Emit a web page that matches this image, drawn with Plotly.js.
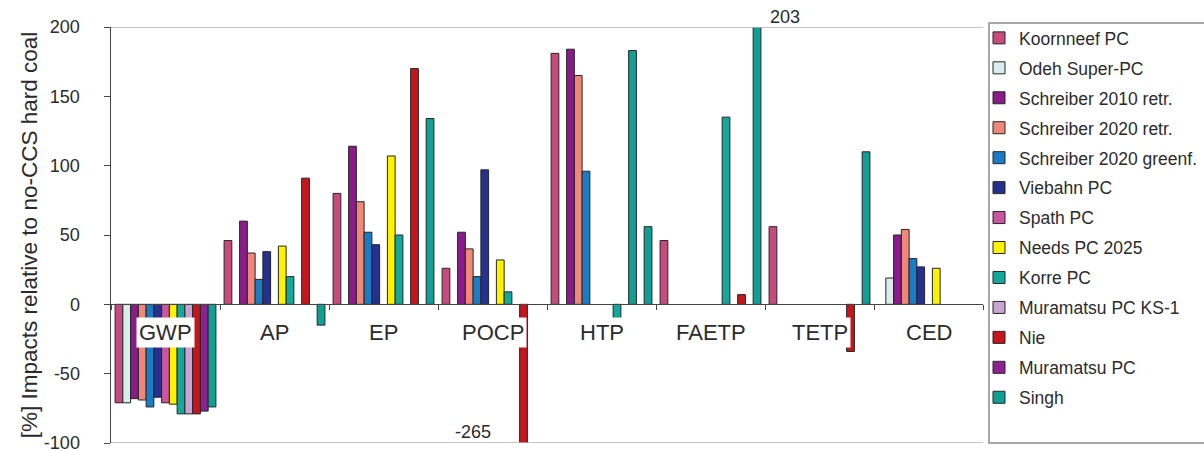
<!DOCTYPE html>
<html><head><meta charset="utf-8">
<script src="https://cdn.plot.ly/plotly-3.0.1.min.js"></script>
<style>html,body{margin:0;padding:0;background:#fff}#chart{width:1204px;height:451px}</style>
</head><body><div id="chart"></div>
<script>
const categories = ['GWP','AP','EP','POCP','HTP','FAETP','TETP','CED'];
const seriesNames = ['Koornneef PC','Odeh Super-PC','Schreiber 2010 retr.','Schreiber 2020 retr.','Schreiber 2020 greenf.','Viebahn PC','Spath PC','Needs PC 2025','Korre PC','Muramatsu PC KS-1','Nie','Muramatsu PC','Singh'];
const seriesColors = ['#c84b7e','#d6eeec','#8a1c8a','#f0887a','#1a7cc4','#26308f','#cc55a0','#fff200','#12a89b','#c9a3d2','#c4161c','#8c2291','#109f94'];

const koornneef      = [-71, 46,  80,   26, 181,  46,  56, null];
const odeh           = [-71, null, null, null, null, null, null, 19];
const schreiber2010  = [-68, 60, 114,   52, 184, null, null, 50];
const schreiber2020r = [-69, 37,  74,   40, 165, null, null, 54];
const schreiber2020g = [-74, 18,  52,   20,  96, null, null, 33];
const viebahn        = [-67, 38,  43,   97, null, null, null, 27];
const spath          = [-71, null, null, null, null, null, null, null];
const needs          = [-72, 42, 107,   32, null, null, null, 26];
const korre          = [-79, 20,  50,    9, -10, 135, null, null];
const muramatsuKS1   = [-79, null, null, null, null, null, null, null];
const nie            = [-79, 91, 170, -265, 183,   7, -34, null];
const muramatsuPC    = [-77, null, null, null, null, null, null, null];
const singh          = [-74, -15, 134, null, 56, 203, 110, null];
// the Nie bar in HTP is drawn in teal in the original figure
const nieColors = ['#c4161c','#c4161c','#c4161c','#c4161c','#109f94','#c4161c','#c4161c','#c4161c'];

const yTickVals = [-100,-50,0,50,100,150,200];
const yTickText = ['-100','-50','0','50','100','150','200'];
const outOfRange = [{cat:'POCP', text:'-265'}, {cat:'FAETP', text:'203'}];

const allSeries = [koornneef, odeh, schreiber2010, schreiber2020r, schreiber2020g, viebahn, spath, needs, korre, muramatsuKS1, nie, muramatsuPC, singh];
const FONT = 'Liberation Sans, Arial, sans-serif';
const TXT = '#2b2b2b';

const traces = allSeries.map((vals, i) => ({
  type: 'bar', x: categories, y: vals, name: seriesNames[i],
  legendgroup: 'g' + i,
  marker: {color: i === 10 ? nieColors : seriesColors[i], line: {color: '#262626', width: 1}},
  hoverinfo: 'x+y+name'
}));

const annotations = categories.map((c, i) => ({
  x: i, y: -20, xref: 'x', yref: 'y', text: c, showarrow: false,
  font: {family: FONT, size: 22, color: TXT}, bgcolor: '#ffffff', borderpad: 2,
  xanchor: 'center', yanchor: 'middle'
}));
annotations.push({x: categories.indexOf(outOfRange[0].cat), y: -92, xref: 'x', yref: 'y', text: outOfRange[0].text, showarrow: false,
  font: {family: FONT, size: 18, color: TXT}, xanchor: 'right', yanchor: 'middle'});
annotations.push({x: categories.indexOf(outOfRange[1].cat) + 0.428, y: 200, xref: 'x', yref: 'y', text: outOfRange[1].text, showarrow: false,
  font: {family: FONT, size: 18, color: TXT}, xanchor: 'left', yanchor: 'bottom', xshift: 11, yshift: -2});

const layout = {
  width: 1204, height: 451,
  margin: {l: 111, r: 221, t: 27, b: 8, autoexpand: false},
  paper_bgcolor: '#ffffff', plot_bgcolor: '#ffffff',
  font: {family: FONT, color: TXT},
  barmode: 'group', bargap: 0.075, bargroupgap: 0,
  showlegend: true,
  legend: {x: (979-111)/872, xanchor: 'left', y: (443-20)/416, yanchor: 'top', traceorder: 'grouped',
    tracegroupgap: 4.2, maxheight: 1000, font: {family: FONT, size: 17.5, color: TXT}, bgcolor: 'rgba(0,0,0,0)', borderwidth: 0, itemwidth: 30},
  xaxis: {type: 'category', anchor: 'free', position: 1/3, showline: true, linecolor: '#444', linewidth: 1,
    ticks: 'outside', tickson: 'boundaries', ticklen: 5, tickcolor: '#444', showticklabels: false, showgrid: false, zeroline: false, fixedrange: true},
  xaxis2: {type: 'linear', overlaying: 'x', anchor: 'free', position: 1/3, range: [-0.5, 7.5], tickvals: [0.5,1.5,2.5,3.5,4.5,5.5,6.5],
    ticks: 'inside', ticklen: 5, tickcolor: '#444', showticklabels: false, showgrid: false, zeroline: false, showline: false},
  yaxis: {range: [-100, 200], tickvals: yTickVals, ticktext: yTickText, ticks: 'outside', ticklen: 6, tickcolor: '#444',
    showline: true, linecolor: '#444', linewidth: 1.5, showgrid: false, zeroline: false, ticklabelstandoff: 20,
    ticklabeloverflow: 'allow',
    tickfont: {family: FONT, size: 18, color: TXT},
    title: {text: '[%] Impacts relative to no-CCS hard coal', font: {family: FONT, size: 22.5, color: TXT}, standoff: 0}},
  yaxis2: {range: [-100, 200], overlaying: 'y', side: 'left', tickvals: yTickVals, ticks: 'inside', ticklen: 6, tickcolor: '#444',
    showticklabels: false, showgrid: false, zeroline: false, showline: false},
  shapes: [
    {type: 'line', xref: 'paper', yref: 'y', x0: 0, x1: 1, y0: 200, y1: 200, line: {color: '#b0b0b0', width: 1.5}},
    {type: 'line', xref: 'paper', yref: 'y', x0: 0, x1: 1, y0: -100, y1: -100, line: {color: '#b0b0b0', width: 1.5}},
    {type: 'rect', xref: 'paper', yref: 'paper', x0: (989-111)/872, x1: 1.3, y0: 0, y1: (443-23)/416, line: {color: '#8c8c8c', width: 1.5}, layer: 'below'}
  ],
  annotations: annotations
};
Plotly.newPlot('chart', traces, layout, {displayModeBar: false, staticPlot: true});
</script></body></html>
